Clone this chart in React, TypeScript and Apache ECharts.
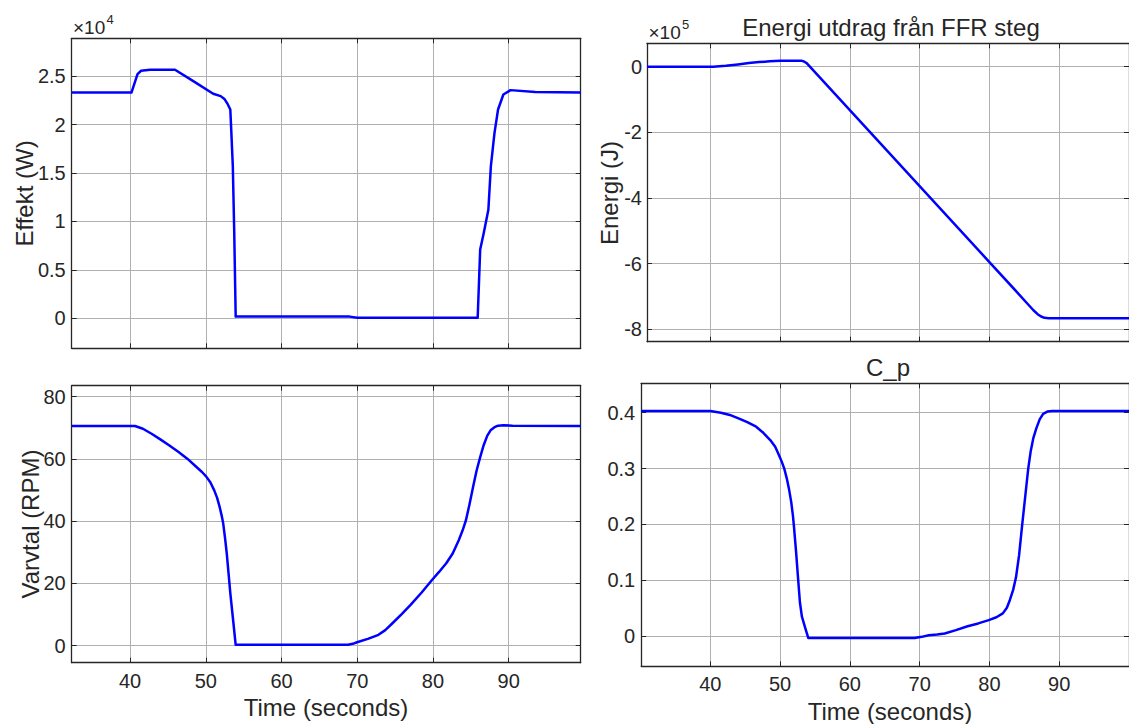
import React, { useEffect, useRef } from "react";
import * as echarts from "echarts";

// ---- Data ----
const effektTime = [32.3, 40.19, 40.99, 41.46, 42.64, 45.94, 48.3, 50.98, 51.97, 52.5, 52.9, 53.24, 53.38, 53.57, 53.76, 53.95, 69.0, 70.0, 85.9, 86.23, 86.7, 87.31, 87.64, 88.12, 88.59, 89.29, 90.24, 93.5, 99.5];
const effektWatt = [23300, 23300, 25200, 25550, 25650, 25650, 24500, 23170, 22930, 22600, 22100, 21550, 19140, 15700, 8800, 170, 170, 50, 50, 7100, 8800, 11200, 15700, 19140, 21550, 23100, 23550, 23350, 23300];

const energiTime = [30.9, 40.4, 42.2, 43.94, 45.5, 46.97, 48.5, 50.0, 51.5, 53.03, 53.4, 53.79, 80.15, 84.0, 85.35, 86.3, 86.9, 87.4, 87.88, 88.5, 100];
const energiJoule = [0, 0, 3000, 7000, 11000, 14000, 16500, 18000, 18500, 18500, 16000, 11000, -599000, -688000, -720000, -742000, -754000, -761000, -765000, -766000, -766000];

const varvtalTime = [32.3, 40.66, 41.7, 42.9, 44.05, 45.2, 46.41, 47.6, 48.77, 49.5, 50.04, 50.6, 51.12, 51.5, 51.83, 52.1, 52.3, 52.55, 52.77, 53.0, 53.24, 53.6, 53.95, 68.79, 69.4, 69.97, 71.4, 72.8, 73.7, 74.68, 75.9, 77.04, 78.5, 79.87, 80.8, 81.75, 82.6, 83.4, 83.9, 84.35, 84.8, 85.29, 85.75, 86.23, 86.7, 87.17, 87.6, 88.12, 88.6, 89.29, 90.5, 99.5];
const varvtalRpm = [70.6, 70.6, 69.7, 68.0, 66.2, 64.3, 62.2, 60.0, 57.4, 55.8, 54.4, 52.5, 49.9, 47.5, 44.6, 41.8, 39.3, 34.5, 29.7, 23.5, 16.9, 8.5, 0.3, 0.3, 0.6, 1.1, 2.2, 3.5, 5.0, 7.3, 10.2, 13.1, 17.1, 21.1, 23.7, 26.5, 29.6, 33.9, 37.0, 40.3, 45.2, 51.0, 56.2, 60.6, 64.5, 67.5, 69.2, 70.2, 70.7, 70.8, 70.7, 70.6];

const cpTime = [30.1, 40.0, 41.52, 42.8, 44.04, 45.3, 46.57, 47.6, 48.59, 49.3, 49.85, 50.25, 50.6, 50.95, 51.3, 51.6, 51.85, 52.0, 52.3, 52.6, 52.85, 53.13, 53.6, 54.04, 69.29, 70.3, 71.31, 72.5, 73.59, 75.2, 76.87, 78.4, 79.9, 81.0, 81.92, 82.5, 82.93, 83.4, 83.8, 84.25, 84.7, 85.0, 85.3, 85.56, 85.9, 86.3, 86.72, 87.2, 87.7, 88.3, 88.99, 100];
const cpValue = [0.403, 0.403, 0.4, 0.396, 0.39, 0.383, 0.375, 0.364, 0.351, 0.339, 0.324, 0.312, 0.3, 0.283, 0.262, 0.24, 0.215, 0.195, 0.15, 0.1, 0.06, 0.035, 0.015, -0.003, -0.003, -0.001, 0.002, 0.003, 0.005, 0.011, 0.018, 0.023, 0.029, 0.034, 0.041, 0.051, 0.065, 0.083, 0.105, 0.145, 0.2, 0.235, 0.27, 0.3, 0.33, 0.355, 0.372, 0.388, 0.398, 0.402, 0.403, 0.403];

const timeTickStep = 10;
const effektTickStep = 5000;
const energiTickStep = 200000;
const varvtalTickStep = 20;
const cpTickStep = 0.1;

const FONT = "'Liberation Sans', Arial, Helvetica, sans-serif";
const AXIS_COLOR = "#262626";
const GRID_COLOR = "#b0b0b0";
const LINE_COLOR = "#0000ff";
const TICK_FONT = 20;

function pairs(xs: number[], ys: number[]) {
  return xs.map((x, i) => [x, ys[i]]);
}

function xAxes(grid: number, min: number, max: number, showLabels: boolean) {
  const common = {
    type: "value",
    gridIndex: grid,
    min,
    max,
    minInterval: timeTickStep,
    maxInterval: timeTickStep,
    axisLine: { show: true, onZero: false, lineStyle: { color: AXIS_COLOR, width: 1.3 } },
    axisTick: { show: true, inside: true, length: 5, lineStyle: { color: AXIS_COLOR, width: 1 } },
  };
  return [
    {
      ...common,
      position: "bottom",
      axisLabel: {
        show: showLabels,
        showMinLabel: false,
        showMaxLabel: false,
        margin: 8,
        fontSize: TICK_FONT,
        fontFamily: FONT,
        color: AXIS_COLOR,
      },
      splitLine: { show: true, lineStyle: { color: GRID_COLOR, width: 1 } },
    },
    {
      ...common,
      position: "top",
      axisLabel: { show: false },
      splitLine: { show: false },
    },
  ];
}

function yAxes(grid: number, min: number, max: number, step: number, fmt: (v: number) => string, margin: number) {
  const common = {
    type: "value",
    gridIndex: grid,
    min,
    max,
    minInterval: step,
    maxInterval: step,
    axisLine: { show: true, onZero: false, lineStyle: { color: AXIS_COLOR, width: 1.3 } },
    axisTick: { show: true, inside: true, length: 5, lineStyle: { color: AXIS_COLOR, width: 1 } },
  };
  return [
    {
      ...common,
      position: "left",
      axisLabel: {
        show: true,
        showMinLabel: false,
        showMaxLabel: false,
        margin,
        fontSize: TICK_FONT,
        fontFamily: FONT,
        color: AXIS_COLOR,
        formatter: fmt,
      },
      splitLine: { show: true, lineStyle: { color: GRID_COLOR, width: 1 } },
    },
    {
      ...common,
      position: "right",
      axisLabel: { show: false },
      splitLine: { show: false },
    },
  ];
}

const clean = (v: number) => String(Number(v.toFixed(3)));

function lineSeries(xi: number, yi: number, data: number[][]) {
  return {
    type: "line",
    xAxisIndex: xi,
    yAxisIndex: yi,
    data,
    showSymbol: false,
    symbol: "none",
    lineStyle: { color: LINE_COLOR, width: 2.5, join: "round" },
    itemStyle: { color: LINE_COLOR },
    silent: true,
  };
}

function txt(x: number, y: number, text: string, size: number, rotate = false, align = "center") {
  return {
    type: "text",
    x,
    y,
    rotation: rotate ? Math.PI / 2 : 0,
    style: {
      text,
      fontSize: size,
      fontFamily: FONT,
      fill: AXIS_COLOR,
      textAlign: align,
      textVerticalAlign: "middle",
    },
  };
}

export default function App() {
  const ref = useRef<HTMLDivElement>(null);

  useEffect(() => {
    if (!ref.current) return;
    const chart = echarts.init(ref.current, null, { renderer: "svg" });

    const option = {
      animation: false,
      backgroundColor: "#ffffff",
      grid: [
        { left: 71.7, top: 38.3, width: 509, height: 310 },
        { left: 647, top: 43.3, right: -15, height: 298.4 },
        { left: 71.7, top: 385.7, width: 509, height: 277 },
        { left: 641.2, top: 383.3, right: -15, height: 283 },
      ],
      xAxis: [
        ...xAxes(0, 32.3, 99.5, false),
        ...xAxes(1, 30.9, 100, false),
        ...xAxes(2, 32.3, 99.5, true),
        ...xAxes(3, 30.1, 100, true),
      ],
      yAxis: [
        ...yAxes(0, -3100, 28900, effektTickStep, (v) => clean(v / 1e4), 6),
        ...yAxes(1, -837800, 71300, energiTickStep, (v) => clean(v / 1e5), 5),
        ...yAxes(2, -5.46, 83.53, varvtalTickStep, (v) => clean(v), 6),
        ...yAxes(3, -0.0537, 0.4526, cpTickStep, (v) => clean(v), 6),
      ],
      series: [
        lineSeries(0, 0, pairs(effektTime, effektWatt)),
        lineSeries(2, 2, pairs(energiTime, energiJoule)),
        lineSeries(4, 4, pairs(varvtalTime, varvtalRpm)),
        lineSeries(6, 6, pairs(cpTime, cpValue)),
      ],
      graphic: [
        txt(24, 193.5, "Effekt (W)", 24, true),
        txt(609, 193, "Energi (J)", 24, true),
        txt(30.5, 524, "Varvtal (RPM)", 24, true),
        txt(326, 707, "Time (seconds)", 24),
        txt(890, 711.5, "Time (seconds)", 24),
        txt(891, 27, "Energi utdrag från FFR steg", 24),
        txt(888, 367, "C_p", 24),
        txt(73, 27, "×10", 19, false, "left"),
        txt(106.5, 19.5, "4", 13, false, "left"),
        txt(648.5, 32, "×10", 19, false, "left"),
        txt(682, 24.5, "5", 13, false, "left"),
      ],
    };

    chart.setOption(option as any);
    return () => chart.dispose();
  }, []);

  return (
    <div
      ref={ref}
      style={{ position: "absolute", left: 0, top: 0, width: 1129, height: 724, overflow: "hidden" }}
    />
  );
}
